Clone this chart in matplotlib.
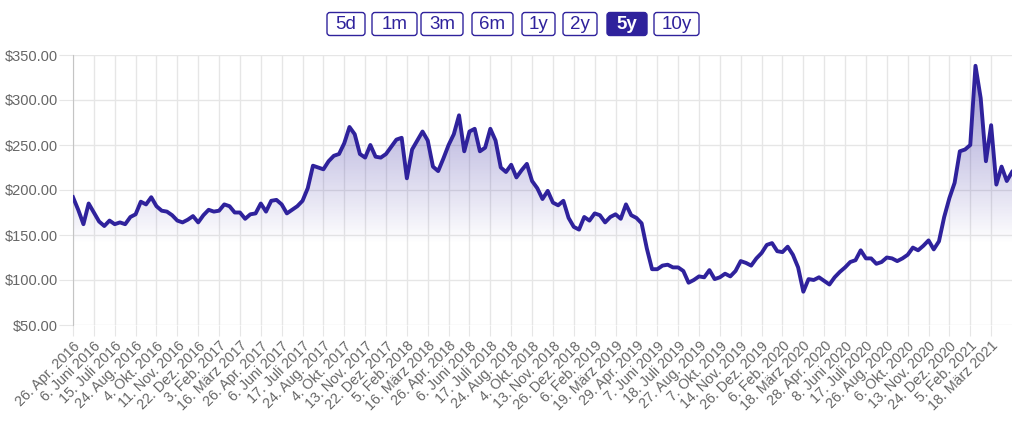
import numpy as np
import matplotlib
matplotlib.use("Agg")
import matplotlib.pyplot as plt
from matplotlib.patches import FancyBboxPatch

# weekly-ish closing prices (4 samples per labelled tick)
prices = [
    192, 178, 162, 185, 175, 165, 160, 166, 162, 164, 162, 170,
    173, 187, 184, 192, 182, 177, 176, 172, 166, 164, 167, 171,
    164, 172, 178, 176, 177, 184, 182, 175, 175, 168, 173, 174,
    185, 176, 188, 189, 184, 174, 178, 182, 188, 202, 227, 225,
    223, 232, 238, 240, 252, 270, 262, 240, 236, 250, 237, 236,
    240, 248, 256, 258, 213, 245, 255, 265, 255, 226, 221, 235,
    250, 262, 283, 243, 265, 268, 243, 247, 268, 255, 225, 220,
    228, 214, 222, 229, 210, 202, 190, 199, 186, 183, 188, 169,
    159, 156, 170, 166, 174, 172, 164, 170, 173, 168, 184, 172,
    169, 163, 135, 112, 112, 116, 117, 114, 114, 110, 97, 100,
    104, 103, 111, 101, 103, 107, 104, 110, 121, 119, 116, 124,
    130, 139, 141, 132, 131, 137, 128, 114, 87, 101, 100, 103,
    99, 95, 103, 109, 114, 120, 122, 133, 124, 124, 118, 120,
    125, 124, 121, 124, 128, 136, 133, 138, 144, 134, 143, 170,
    191, 208, 243, 245, 250, 338, 302, 232, 272, 206, 226, 210,
    220,
]

tick_labels = [
    "26. Apr. 2016", "6. Juni 2016", "15. Juli 2016", "24. Aug. 2016",
    "4. Okt. 2016", "11. Nov. 2016", "22. Dez. 2016", "3. Feb. 2017",
    "16. März 2017", "26. Apr. 2017", "6. Juni 2017", "17. Juli 2017",
    "24. Aug. 2017", "4. Okt. 2017", "13. Nov. 2017", "22. Dez. 2017",
    "5. Feb. 2018", "16. März 2018", "26. Apr. 2018", "6. Juni 2018",
    "17. Juli 2018", "24. Aug. 2018", "4. Okt. 2018", "13. Nov. 2018",
    "26. Dez. 2018", "6. Feb. 2019", "19. März 2019", "29. Apr. 2019",
    "7. Juni 2019", "18. Juli 2019", "27. Aug. 2019", "7. Okt. 2019",
    "14. Nov. 2019", "26. Dez. 2019", "6. Feb. 2020", "18. März 2020",
    "28. Apr. 2020", "8. Juni 2020", "17. Juli 2020", "26. Aug. 2020",
    "6. Okt. 2020", "13. Nov. 2020", "24. Dez. 2020", "5. Feb. 2021",
    "18. März 2021",
]
tick_step = 4

y_ticks = [50, 100, 150, 200, 250, 300, 350]

buttons = ["5d", "1m", "3m", "6m", "1y", "2y", "5y", "10y"]
active = "5y"

plt.rcParams["font.family"] = ["Liberation Sans", "DejaVu Sans"]

line_color = "#2f229c"
grid_color = "#e6e6e6"
text_color = "#666666"

fig = plt.figure(figsize=(10.24, 4.21), dpi=100)
ax = fig.add_axes([73 / 1024, 96 / 421, 939 / 1024, 270 / 421])

x = np.arange(len(prices))
y = np.array(prices, dtype=float)

# gradient fill under the line
poly = ax.fill_between(x, y, y_ticks[0], color="none", lw=0)
grad = np.zeros((256, 1, 4))
grad[:, 0, :3] = matplotlib.colors.to_rgb(line_color)
lv = np.linspace(y_ticks[0], y_ticks[-1], 256)
grad[:, 0, 3] = np.clip((lv - 140) / (350 - 140), 0, 1) * 0.5
im = ax.imshow(grad, extent=[x[0], x[-1], y_ticks[0], y_ticks[-1]],
               origin="lower", aspect="auto", zorder=1)
im.set_clip_path(poly.get_paths()[0], transform=ax.transData)

ax.plot(x, y, color=line_color, lw=2.8, solid_joinstyle="round", zorder=3)

ax.set_xlim(x[0], x[-1])
ax.set_ylim(y_ticks[0], y_ticks[-1])
ax.set_yticks(y_ticks)
ax.set_yticklabels([f"${v:.2f}" for v in y_ticks])
tick_pos = np.arange(0, len(tick_labels) * tick_step, tick_step)
ax.set_xticks(tick_pos)
ax.set_xticklabels(tick_labels, rotation=45, ha="right", rotation_mode="anchor")

ax.grid(True, color=grid_color, lw=1, zorder=0)
ax.set_axisbelow(True)
for s in ["top", "right", "bottom"]:
    ax.spines[s].set_visible(False)
ax.spines["left"].set_color("#c4c4c4")
ax.tick_params(axis="x", length=8, color=grid_color, pad=2, labelsize=10.3,
               labelcolor=text_color)
ax.tick_params(axis="y", length=10, color=grid_color, pad=1, labelsize=10.5,
               labelcolor=text_color)

# range buttons on top
bax = fig.add_axes([0, 0, 1, 1])
bax.set_xlim(0, 1024)
bax.set_ylim(421, 0)
bax.axis("off")
btn_left = [327, 372, 421, 472, 522, 563, 607, 654]
btn_width = [38, 45, 42, 41, 33, 34, 40, 45]
for lab, bl, bw in zip(buttons, btn_left, btn_width):
    on = lab == active
    bax.add_patch(FancyBboxPatch((bl, 12.5), bw, 23,
                                 boxstyle="round,pad=0,rounding_size=3",
                                 fc=line_color if on else "white",
                                 ec=line_color, lw=1.0))
    bax.text(bl + bw / 2, 24.5, lab, ha="center", va="center", fontsize=13.5,
             color="white" if on else line_color,
             fontweight="bold" if on else "normal")

fig.savefig("out.png", dpi=100)
